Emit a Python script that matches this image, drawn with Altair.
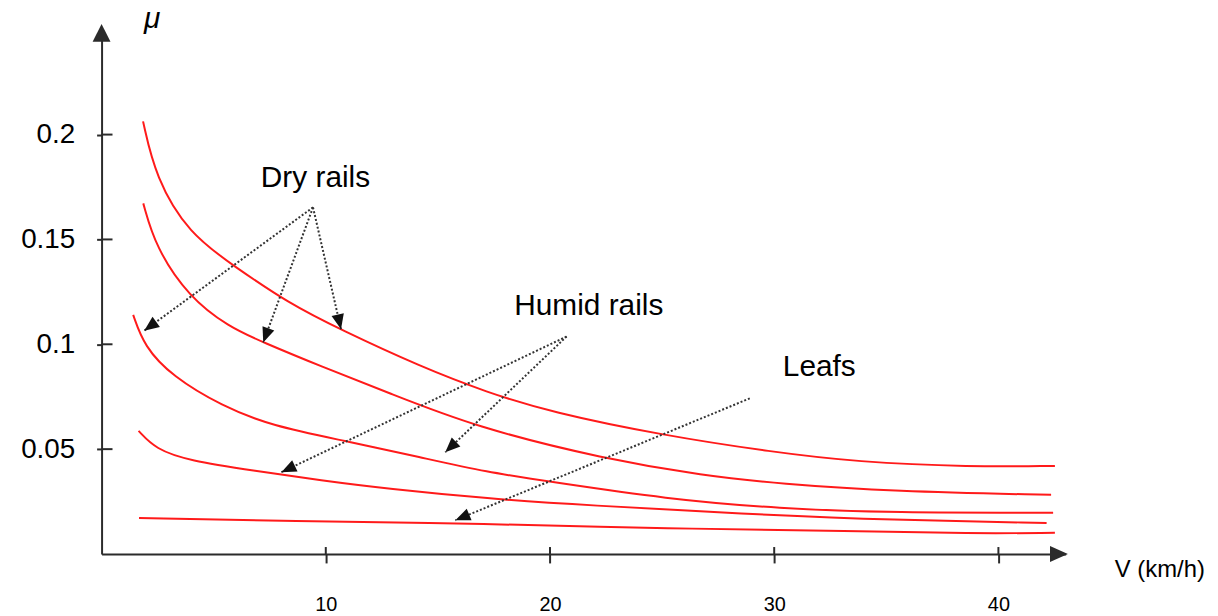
import math
import altair as alt
import pandas as pd

# ---------------- data ----------------
v1 = [1.85, 2.41, 3.89, 5.96, 8.32, 10.67, 14.21, 17.18, 20.06, 24.98, 29.94, 33.66, 38.76, 42.52]
mu1 = [0.2063, 0.1795, 0.1528, 0.1369, 0.1197, 0.1069, 0.0894, 0.0771, 0.0676, 0.0567, 0.0486, 0.0439, 0.0415, 0.0420]

v2 = [1.86, 2.41, 3.89, 5.66, 7.21, 9.78, 12.75, 16.65, 22.44, 26.87, 30.25, 35.35, 42.35]
mu2 = [0.1672, 0.1463, 0.1226, 0.1084, 0.1009, 0.0895, 0.0771, 0.0606, 0.0453, 0.0374, 0.0335, 0.0298, 0.0282]

v3 = [1.41, 1.90, 3.15, 5.37, 7.58, 10.83, 14.23, 17.18, 20.06, 25.16, 30.25, 35.35, 42.44]
mu3 = [0.1140, 0.0990, 0.0847, 0.0705, 0.0611, 0.0540, 0.0461, 0.0390, 0.0344, 0.0263, 0.0216, 0.0197, 0.0197]

v4 = [1.65, 2.41, 3.89, 6.85, 9.80, 12.75, 17.18, 21.74, 28.52, 35.35, 42.15]
mu4 = [0.0587, 0.0500, 0.0445, 0.0397, 0.0350, 0.0311, 0.0264, 0.0232, 0.0192, 0.0161, 0.0148]

v5 = [1.67, 8.32, 17.18, 25.16, 33.66, 38.76, 42.52]
mu5 = [0.0172, 0.0156, 0.0145, 0.0121, 0.0110, 0.0097, 0.0101]

curve_names = ["c1", "c2", "c3", "c4", "c5"]

label_texts = ["Dry rails", "Humid rails", "Leafs"]
label_v = [9.54, 21.73, 32.01]
label_mu = [0.1752, 0.1140, 0.0847]

arrow_from_v = [9.43, 9.43, 9.43, 20.74, 20.74, 28.91]
arrow_from_mu = [0.1653, 0.1653, 0.1653, 0.1037, 0.1037, 0.0742]
arrow_to_v = [1.90, 7.21, 10.68, 8.02, 15.33, 15.78]
arrow_to_mu = [0.1065, 0.1009, 0.1072, 0.0390, 0.0485, 0.0161]

x_ticks = [10, 20, 30, 40]
y_ticks = [0.05, 0.1, 0.15, 0.2]

x_domain = [0, 43]
y_domain = [0, 0.25]

# ---------------- layout ----------------
PX_X = 22.57     # pixels per km/h
PX_Y = 2111.0    # pixels per unit of mu
W = (x_domain[1] - x_domain[0]) * PX_X
H = (y_domain[1] - y_domain[0]) * PX_Y
PAD_L, PAD_T = 94.2, 19.85
TOTAL_W, TOTAL_H = 1210, 608
PAD_R = TOTAL_W - PAD_L - W
PAD_B = TOTAL_H - PAD_T - H

AXIS_COLOR = "#2b2b2b"
FONT = "Liberation Sans"

# ---------------- tables ----------------
rows = []
for name, vs, ms in zip(curve_names, [v1, v2, v3, v4, v5], [mu1, mu2, mu3, mu4, mu5]):
    for i, (v, m) in enumerate(zip(vs, ms)):
        rows.append({"curve": name, "order": i, "v": v, "mu": m})
curve_df = pd.DataFrame(rows)

arows = []
for fv, fm, tv, tm in zip(arrow_from_v, arrow_from_mu, arrow_to_v, arrow_to_mu):
    dx = (tv - fv) * PX_X
    dy = -(tm - fm) * PX_Y
    ang = math.degrees(math.atan2(dx, -dy)) % 360
    arows.append({"v": fv, "mu": fm, "v2": tv, "mu2": tm, "angle": ang})
arrow_df = pd.DataFrame(arows)

label_df = pd.DataFrame({"text": label_texts, "v": label_v, "mu": label_mu})
xt_df = pd.DataFrame({"v": x_ticks})
yt_df = pd.DataFrame({"mu": y_ticks})
yarrow_df = pd.DataFrame({"v": [0.0], "mu": [0.2485]})
xarrow_df = pd.DataFrame({"v": [42.70], "mu": [0.0]})

xs = alt.Scale(domain=x_domain, nice=False, zero=False)
ys = alt.Scale(domain=y_domain, nice=False, zero=False)

x_axis = alt.Axis(
    values=x_ticks, grid=False, title="V (km/h)",
    domainColor=AXIS_COLOR, domainWidth=2, tickColor=AXIS_COLOR, tickWidth=2, tickSize=9,
    labelFont=FONT, labelFontSize=20, labelColor="black", labelPadding=32, labelFlush=False,
    titleFont=FONT, titleFontSize=24, titleFontWeight="normal", titleColor="black",
    titleX=1019.5, titleY=22.7, titleAlign="left", titleBaseline="alphabetic",
)
y_axis = alt.Axis(
    values=y_ticks, grid=False, format="~g", title="μ",
    domainColor=AXIS_COLOR, domainWidth=2, tickColor=AXIS_COLOR, tickWidth=2, tickSize=5,
    labelFont=FONT, labelFontSize=28, labelColor="black", labelPadding=22,
    titleFont=FONT, titleFontSize=30, titleFontStyle="italic", titleFontWeight="normal",
    titleColor="black", titleAngle=0, titleX=50.3, titleY=-2.25, titleAlign="center",
    titleBaseline="alphabetic",
)


def X(field):
    return alt.X(field, scale=xs, axis=x_axis)


def Y(field):
    return alt.Y(field, scale=ys, axis=y_axis)


curves = alt.Chart(curve_df).mark_line(
    color="#ff1a1a", strokeWidth=2, interpolate="basis"
).encode(
    x=X("v:Q"),
    y=Y("mu:Q"),
    detail="curve:N",
    order="order:Q",
)

arrow_lines = alt.Chart(arrow_df).mark_rule(
    color="#333333", strokeWidth=2, strokeDash=[2, 2]
).encode(
    x=X("v:Q"),
    y=Y("mu:Q"),
    x2="v2:Q",
    y2="mu2:Q",
)

arrow_heads = alt.Chart(arrow_df).mark_point(
    shape="M0,0L0.42,1L-0.42,1Z", size=900, filled=True, opacity=1, color="#111111"
).encode(
    x=X("v2:Q"),
    y=Y("mu2:Q"),
    angle=alt.Angle("angle:Q", scale=None),
)

labels = alt.Chart(label_df).mark_text(
    font=FONT, fontSize=30, align="center", baseline="alphabetic", color="black"
).encode(
    x=X("v:Q"),
    y=Y("mu:Q"),
    text="text:N",
)

y_inner_ticks = alt.Chart(yt_df).mark_rule(color=AXIS_COLOR, strokeWidth=2).encode(
    y=Y("mu:Q"),
    x=alt.value(0),
    x2=alt.value(11),
)
x_inner_ticks = alt.Chart(xt_df).mark_rule(color=AXIS_COLOR, strokeWidth=2).encode(
    x=X("v:Q"),
    y=alt.value(H),
    y2=alt.value(H - 7),
)

y_arrow = alt.Chart(yarrow_df).mark_point(
    shape="M0,-1L1,1L-1,1Z", size=324, filled=True, opacity=1, color=AXIS_COLOR, clip=False
).encode(
    x=X("v:Q"),
    y=Y("mu:Q"),
)
x_arrow = alt.Chart(xarrow_df).mark_point(
    shape="M1,0L-1,-0.9L-1,0.9Z", size=324, filled=True, opacity=1, color=AXIS_COLOR, clip=False
).encode(
    x=X("v:Q"),
    y=Y("mu:Q"),
)

chart = alt.layer(
    curves, arrow_lines, arrow_heads, labels, y_inner_ticks, x_inner_ticks, y_arrow, x_arrow
).properties(
    width=W, height=H,
    padding={"left": PAD_L, "top": PAD_T, "right": PAD_R, "bottom": PAD_B},
    autosize=alt.AutoSizeParams(type="none"),
    background="white",
).configure_view(stroke=None)

chart.save("out.html", embed_options={"renderer": "svg", "actions": False})
